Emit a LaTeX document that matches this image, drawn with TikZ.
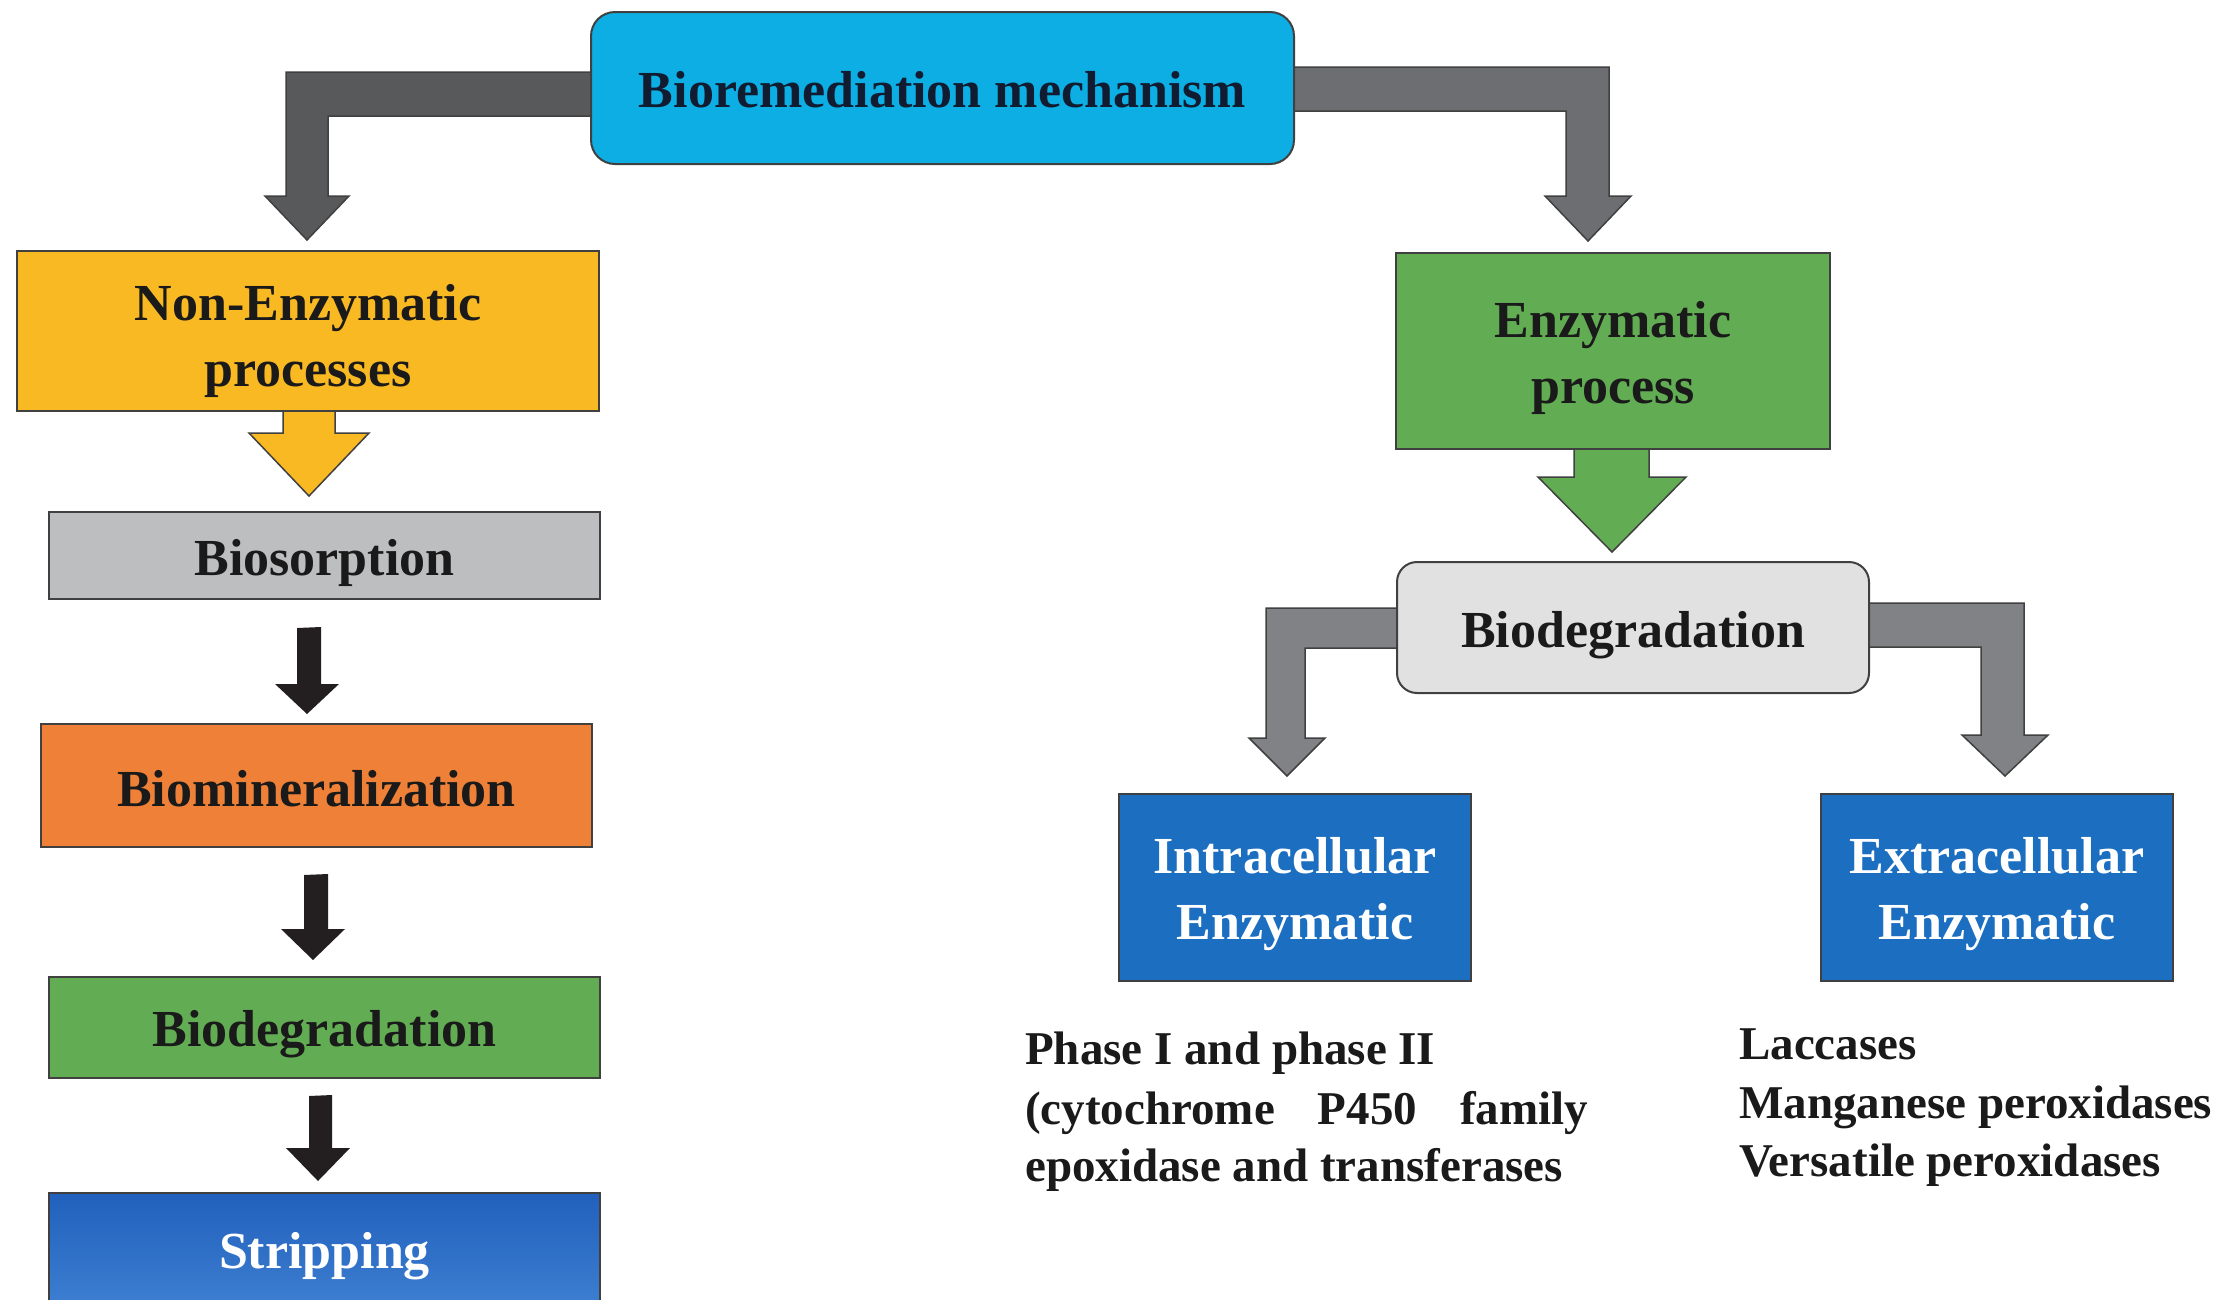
\documentclass[tikz,border=0pt]{standalone}
\usepackage{fontspec}
\setmainfont{Liberation Serif}
\usetikzlibrary{calc}
\definecolor{topcyan}{RGB}{12,174,228}
\definecolor{darkarrow}{RGB}{88,89,91}
\definecolor{midarrow}{RGB}{109,110,113}
\definecolor{lightarrow}{RGB}{128,130,133}
\definecolor{nonyellow}{RGB}{249,185,34}
\definecolor{biosgray}{RGB}{188,190,192}
\definecolor{minorange}{RGB}{238,129,55}
\definecolor{leafgreen}{RGB}{98,173,84}
\definecolor{striptop}{RGB}{33,96,188}
\definecolor{stripbot}{RGB}{62,128,210}
\definecolor{enzblue}{RGB}{27,110,192}
\definecolor{degradgray}{RGB}{225,225,226}
\definecolor{edgegray}{RGB}{64,64,64}
\definecolor{arrowblack}{RGB}{35,31,32}
\definecolor{inkblack}{RGB}{26,26,26}
\definecolor{navyink}{RGB}{18,28,48}
% first baseline placed #1 below the node centre
\newcommand{\boxtext}[2][19pt]{\raisebox{-#1}[0pt][0pt]{\begin{tabular}[t]{@{}c@{}}#2\end{tabular}}}
\pgfdeclarelayer{bg}
\pgfsetlayers{bg,main}
\begin{document}
\begin{tikzpicture}[x=1pt,y=-1pt,
  box/.style={draw=edgegray, line width=2pt, inner sep=0pt,
    font=\bfseries\fontsize{52}{66}\selectfont, text=inkblack},
  blockarrow/.style={draw=edgegray, line width=1.5pt, line join=miter},
  lowtext/.style={anchor=base west, inner sep=0pt,
    font=\bfseries\fontsize{47}{57}\selectfont, text=inkblack}]
\useasboundingbox (0,0) rectangle (2226,1299);

% boxes
\node[box, fill=topcyan, rounded corners=24pt, minimum width=703pt, minimum height=152pt, text=navyink] (top) at (942.5,88) {\boxtext[19pt]{Bioremediation mechanism}};
\node[box, fill=nonyellow, minimum width=582pt, minimum height=160pt] (nonenz) at (308,331) {\boxtext[-11pt]{Non-Enzymatic\\processes}};
\node[box, fill=biosgray, minimum width=551pt, minimum height=87pt] (bios) at (324.5,555.5) {\boxtext[19.5pt]{Biosorption}};
\node[box, fill=minorange, minimum width=551pt, minimum height=123pt] (biomin) at (316.5,785.5) {\boxtext[20.5pt]{Biomineralization}};
\node[box, fill=leafgreen, minimum width=551pt, minimum height=101pt] (biodegL) at (324.5,1027.5) {\boxtext[19pt]{Biodegradation}};
\node[box, top color=striptop, bottom color=stripbot, minimum width=551pt, minimum height=118pt, text=white] (strip) at (324.5,1252) {\boxtext[16pt]{Stripping}};

\node[box, fill=leafgreen, minimum width=434pt, minimum height=196pt] (enz) at (1613,351) {\boxtext[-13.5pt]{Enzymatic\\process}};
\node[box, fill=degradgray, rounded corners=20pt, minimum width=472pt, minimum height=131pt] (biodegR) at (1633,627.5) {\boxtext[19.5pt]{Biodegradation}};
\node[box, fill=enzblue, minimum width=352pt, minimum height=187pt, text=white] (intra) at (1295,887.5) {\boxtext[-13.8pt]{Intracellular\\Enzymatic}};
\node[box, fill=enzblue, minimum width=352pt, minimum height=187pt, text=white] (extra) at (1997,887.5) {\boxtext[-13.8pt]{Extracellular\\Enzymatic}};

% lower texts
\node[lowtext] (intra1) at (1025,1064) {Phase I and phase II};
\node[lowtext] (intra2) at (1025,1124) {\hbox to 563pt{(cytochrome\hfill P450\hfill family}};
\node[lowtext] (intra3) at (1025,1181) {epoxidase and transferases};
\node[lowtext] (extra1) at (1739,1059) {Laccases};
\node[lowtext] (extra2) at (1739,1118) {Manganese peroxidases};
\node[lowtext] (extra3) at (1739,1176) {Versatile peroxidases};

\begin{pgfonlayer}{bg}
\fill[white] (0,0) rectangle (2226,1299);
% top left elbow
\draw[blockarrow, fill=darkarrow] (top.center |- 0,72) -- (286,72) -- (286,196) -- (265,196) -- (307,240) -- (349,196) -- (328,196) -- (328,116) -- (top.center |- 0,116) -- cycle;
% top right elbow
\draw[blockarrow, fill=midarrow] (top.center |- 0,67) -- (1609,67) -- (1609,196) -- (1631,196) -- (1588,241) -- (1545,196) -- (1566,196) -- (1566,111) -- (top.center |- 0,111) -- cycle;
% yellow arrow
\draw[blockarrow, fill=nonyellow] (nonenz.center -| 283,0) -- (283,433) -- (249,433) -- (309,496) -- (369,433) -- (335,433) -- (nonenz.center -| 335,0) -- cycle;
% green arrow
\draw[blockarrow, fill=leafgreen] (enz.center -| 1574,0) -- (1574,477) -- (1538,477) -- (1612,552) -- (1686,477) -- (1649,477) -- (enz.center -| 1649,0) -- cycle;
% black arrows
\fill[arrowblack] (bios.south -| 297,0) ++(0,28) -- (297,684) -- (275,684) -- (307,714) -- (339,684) -- (321,684) -- (321,627) -- cycle;
\fill[arrowblack] (biomin.south -| 304,0) ++(0,27) -- (304,929) -- (281,929) -- (313,960) -- (345,929) -- (328,929) -- (328,874) -- cycle;
\fill[arrowblack] (biodegL.south -| 309,0) ++(0,17) -- (309,1148) -- (286,1148) -- (318,1181) -- (350,1148) -- (332,1148) -- (332,1095) -- cycle;
% biodegradation elbows
\draw[blockarrow, fill=lightarrow] (biodegR.center |- 0,608) -- (1266,608) -- (1266,738) -- (1249,738) -- (1287,776) -- (1325,738) -- (1305,738) -- (1305,648) -- (biodegR.center |- 0,648) -- cycle;
\draw[blockarrow, fill=lightarrow] (biodegR.center |- 0,603) -- (2024,603) -- (2024,735) -- (2048,735) -- (2005,776) -- (1962,735) -- (1981,735) -- (1981,647) -- (biodegR.center |- 0,647) -- cycle;
\end{pgfonlayer}
\end{tikzpicture}
\end{document}
